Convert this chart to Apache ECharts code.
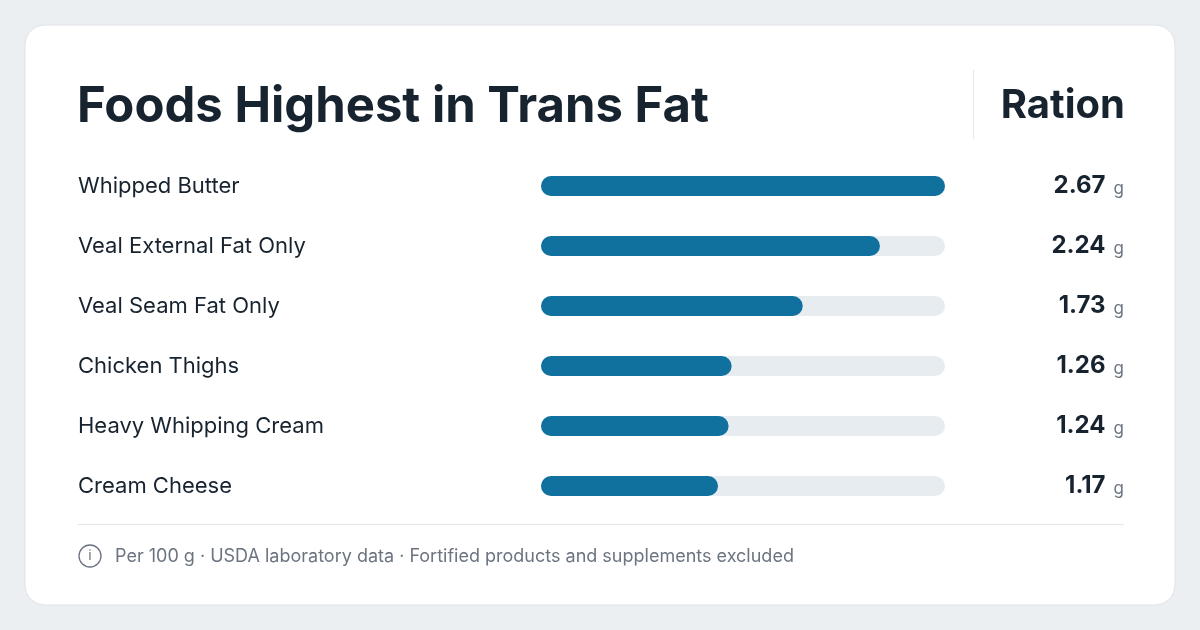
<!DOCTYPE html>
<html><head><meta charset="utf-8">
<script src="https://cdn.jsdelivr.net/npm/echarts@6/dist/echarts.min.js"></script>
<style>html,body{margin:0;padding:0;background:#eceff2;}#c{width:1200px;height:630px;}</style>
</head><body><div id="c"></div>
<script>
const categories = ['Whipped Butter','Veal External Fat Only','Veal Seam Fat Only','Chicken Thighs','Heavy Whipping Cream','Cream Cheese'];
const values = [2.67, 2.24, 1.73, 1.26, 1.24, 1.17];
const unit = 'g';
const titleText = 'Foods Highest in Trans Fat';
const columnHeader = 'Ration';
const footnote = 'Per 100 g · USDA laboratory data · Fortified products and supplements excluded';

const F = 'Inter, "Noto Sans", sans-serif';
const chart = echarts.init(document.getElementById('c'), null, {renderer:'canvas'});
chart.setOption({
  backgroundColor: '#eceff2',
  animation: false,
  graphic: [
    {type:'rect', z:-10, shape:{x:25,y:25,width:1150,height:580,r:20}, style:{fill:'#ffffff', stroke:'#dfe3e8', lineWidth:1}},
    {type:'text', x:77, y:107, style:{text:titleText, font:'bold 49px '+F, fill:'#17232f', textVerticalAlign:'middle'}},
    {type:'line', shape:{x1:973.5,y1:70,x2:973.5,y2:139}, style:{stroke:'#e3e6ea', lineWidth:1}},
    {type:'text', x:1125, y:106, style:{text:columnHeader, font:'bold 40px '+F, fill:'#17232f', textAlign:'right', textVerticalAlign:'middle'}},
    {type:'line', shape:{x1:78,y1:524.5,x2:1124,y2:524.5}, style:{stroke:'#e3e6ea', lineWidth:1}},
    {type:'circle', shape:{cx:90,cy:556,r:11}, style:{fill:'none', stroke:'#6b7480', lineWidth:1.3}},
    {type:'text', x:90, y:556, style:{text:'i', font:'14px '+F, fill:'#6b7480', textAlign:'center', textVerticalAlign:'middle'}},
    {type:'text', x:115, y:557, style:{text:footnote, font:'18px '+F, fill:'#6b7480', textVerticalAlign:'middle'}}
  ],
  grid: {left:541, right:255, top:156, bottom:114},
  xAxis: {type:'value', min:0, max:Math.max(...values), show:false},
  yAxis: [
    {type:'category', data:categories, inverse:true,
     axisLine:{show:false}, axisTick:{show:false}, splitLine:{show:false},
     axisLabel:{align:'left', margin:463, fontFamily:F, fontSize:22, color:'#17232f'}},
    {type:'category', data:values.map(v=>v.toFixed(2)), inverse:true, position:'right',
     axisLine:{show:false}, axisTick:{show:false}, splitLine:{show:false},
     axisLabel:{align:'right', margin:179, formatter:v=>'{v|'+v+'}{u|'+unit+'}',
       rich:{v:{fontFamily:F, fontSize:24, fontWeight:'bold', color:'#17232f'}, u:{fontFamily:F, fontSize:17, color:'#6b7480', padding:[5,0,0,8]}}}}
  ],
  series: [{
    type:'bar', data:values, barWidth:20, yAxisIndex:0,
    itemStyle:{color:'#10709e', borderRadius:10},
    showBackground:true, backgroundStyle:{color:'#e7ecf1', borderRadius:10}
  }]
});
</script></body></html>
